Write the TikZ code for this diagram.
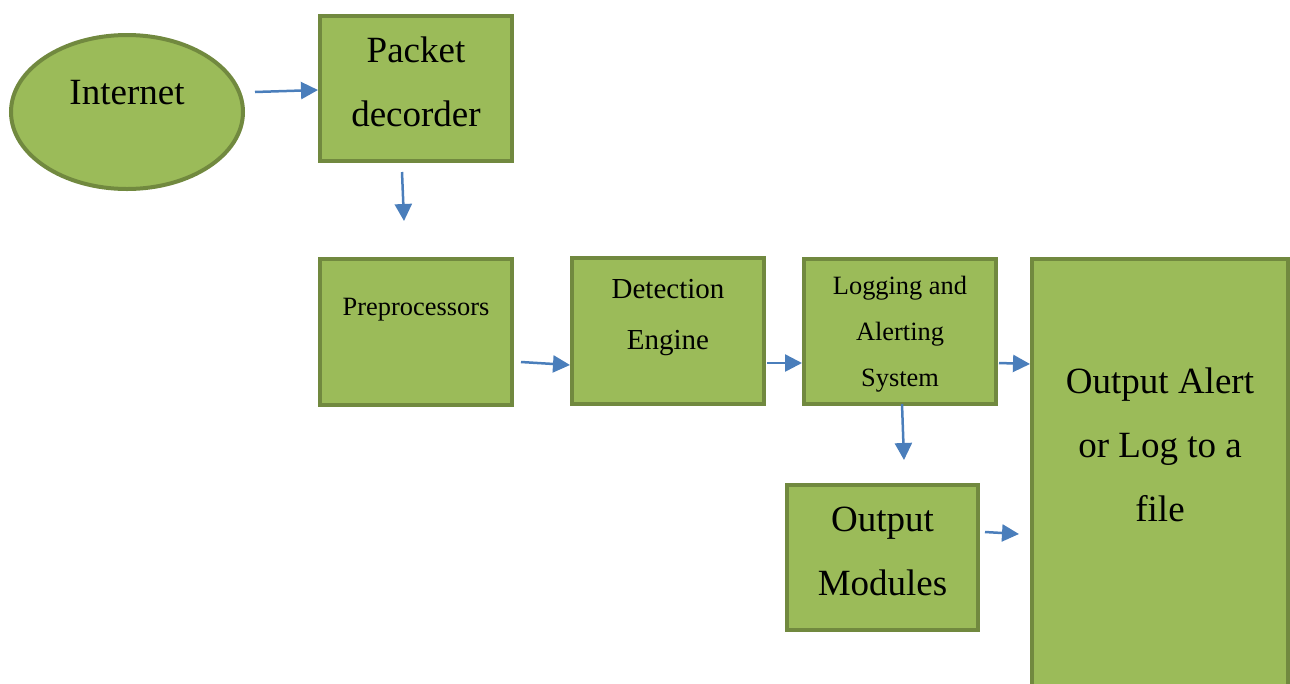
\documentclass[tikz,border=0pt]{standalone}
\usepackage{fontspec}
\setmainfont{Liberation Serif}
\usetikzlibrary{arrows.meta,shapes.geometric}
\definecolor{boxfill}{HTML}{9BBB59}
\definecolor{boxline}{HTML}{71893F}
\definecolor{arrblue}{HTML}{4A7EBB}
\tikzset{
  gbox/.style={draw=boxline, fill=boxfill, line width=4pt, rectangle, inner sep=0pt},
  gell/.style={draw=boxline, fill=boxfill, line width=4pt, ellipse, inner sep=0pt},
  bigtxt/.style={font=\fontsize{37}{64}\selectfont, align=center, inner sep=0pt},
  midtxt/.style={font=\fontsize{29}{51}\selectfont, align=center, inner sep=0pt},
  smalltxt/.style={font=\fontsize{26.4}{46}\selectfont, align=center, inner sep=0pt},
  arr/.style={draw=arrblue, line width=2.5pt, -{Triangle[length=17pt,width=17pt]}}
}
\begin{document}
\begin{tikzpicture}[x=1pt,y=-1pt]
\useasboundingbox (0,0) rectangle (1290,683);
\clip (0,0) rectangle (1290,683);
% shapes
\node[gell, minimum width=232pt, minimum height=154pt] (inet) at (127,112) {};
\node[gbox, minimum width=192pt, minimum height=145pt] (pkt) at (416,88.5) {};
\node[gbox, minimum width=192pt, minimum height=146pt] (pre) at (416,332) {};
\node[gbox, minimum width=192pt, minimum height=146pt] (det) at (668,331) {};
\node[gbox, minimum width=192pt, minimum height=145pt] (log) at (900,331.5) {};
\node[gbox, minimum width=256pt, minimum height=470pt] (out) at (1160,494) {};
\node[gbox, minimum width=191pt, minimum height=145pt] (mod) at (882.5,557.5) {};
% texts
\node[bigtxt] (inettxt) at (127,92.5) {Internet};
\node[bigtxt] (pkttxt) at (416,82) {Packet\\decorder};
\node[smalltxt] (pretxt) at (416,309.5) {Preprocessors};
\node[midtxt] (dettxt) at (668,318) {Detection\\Engine};
\node[smalltxt] (logtxt) at (900,334.5) {Logging and\\Alerting\\System};
\node[bigtxt] (outtxt) at (1160,444.5) {Output Alert\\or Log to a\\file};
\node[bigtxt] (modtxt) at (882.5,551) {Output\\Modules};
% connector free ends
\coordinate (a1) at (255,92);
\coordinate (a2s) at (402,172);
\coordinate (a2e) at (404,221);
\coordinate (a3) at (521,362);
\coordinate (a4) at (767,363);
\coordinate (a5) at (999,363);
\coordinate (a6s) at (902,404);
\coordinate (a6e) at (904,460);
\coordinate (a7s) at (985,532);
\coordinate (a7e) at (1019,534);
% connectors
\draw[arr] (a1) -- (pkt.west |- 0,90);
\draw[arr] (a2s) -- (a2e);
\draw[arr] (a3) -- (det.west |- 0,365);
\draw[arr] (a4) -- (log.west |- 0,363);
\draw[arr] (a5) -- (out.west |- 0,364);
\draw[arr] (a6s) -- (a6e);
\draw[arr] (a7s) -- (a7e);
\end{tikzpicture}
\end{document}
